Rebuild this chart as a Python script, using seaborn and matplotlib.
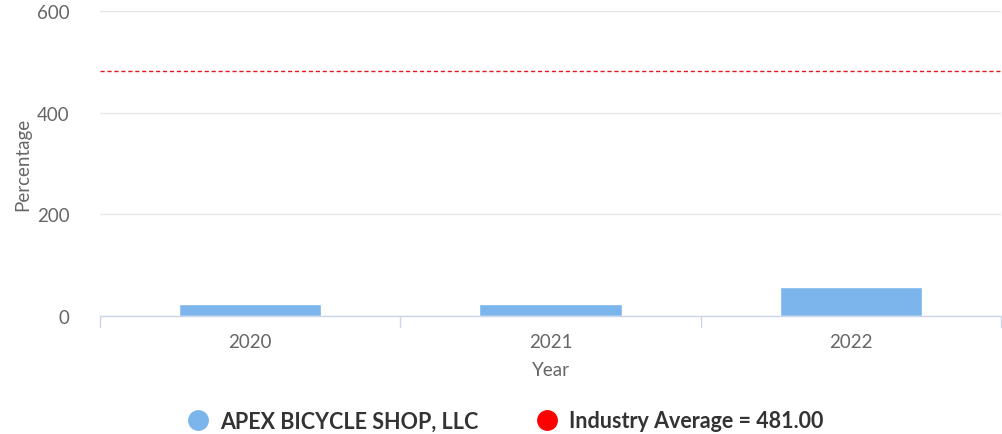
import matplotlib
matplotlib.use("Agg")
import matplotlib.pyplot as plt
from matplotlib.lines import Line2D
import seaborn as sns
import pandas as pd

years = ["2020", "2021", "2022"]
values = [24, 23, 58]
industry_avg = 481.00
company = "APEX BICYCLE SHOP, LLC"

sns.set_theme(style="white")
plt.rcParams['font.family'] = ['Lato', 'DejaVu Sans']

fig = plt.figure(figsize=(10.03, 4.35), dpi=100)
ax = fig.add_axes([100/1003, 1-317/435, 901/1003, 305/435])

df = pd.DataFrame({"Year": years, "Percentage": values})
sns.barplot(data=df, x="Year", y="Percentage", ax=ax, color="#7cb5ec",
            saturation=1, width=0.475, edgecolor="white", linewidth=1)

ax.axhline(industry_avg, color="#e0191c", linestyle=(0, (3, 2)), linewidth=1, zorder=3)

ax.set_ylim(0, 600)
ax.set_yticks([0, 200, 400, 600])
ax.set_xlim(-0.5, 2.5)
ax.yaxis.grid(True, color="#e6e6e6", linewidth=1)
ax.set_axisbelow(True)
for s in ["top", "right", "left"]:
    ax.spines[s].set_visible(False)
ax.spines["bottom"].set_color("#ccd6eb")
ax.spines["bottom"].set_linewidth(1)

ax.tick_params(axis="y", length=0, labelsize=13.5, labelcolor="#666666", pad=22)
ax.tick_params(axis="x", length=0, labelsize=13.5, labelcolor="#666666", pad=12)
for xb in [-0.5, 0.5, 1.5, 2.5]:
    ax.plot([xb, xb], [0, -0.035], transform=ax.get_xaxis_transform(),
            color="#ccd6eb", linewidth=1, clip_on=False)

ax.set_xlabel("Year", fontsize=13.5, color="#666666", labelpad=8)
ax.set_ylabel("Percentage", fontsize=13.5, color="#666666", labelpad=4)

handles = [
    Line2D([], [], marker="o", linestyle="", markersize=14, markerfacecolor="#7cb5ec", markeredgecolor="#7cb5ec"),
    Line2D([], [], marker="o", linestyle="", markersize=14, markerfacecolor="#ff0000", markeredgecolor="#ff0000"),
]
labels = [company, f"Industry Average = {industry_avg:.2f}"]
leg = fig.legend(handles, labels, loc="center", bbox_to_anchor=(500/1003, 1-422/435),
                 ncol=2, frameon=False, handletextpad=0.0, columnspacing=2.2,
                 prop={"weight": "bold", "size": 15.5})
for t in leg.get_texts():
    t.set_color("#333333")

fig.savefig("out.png", dpi=100)
